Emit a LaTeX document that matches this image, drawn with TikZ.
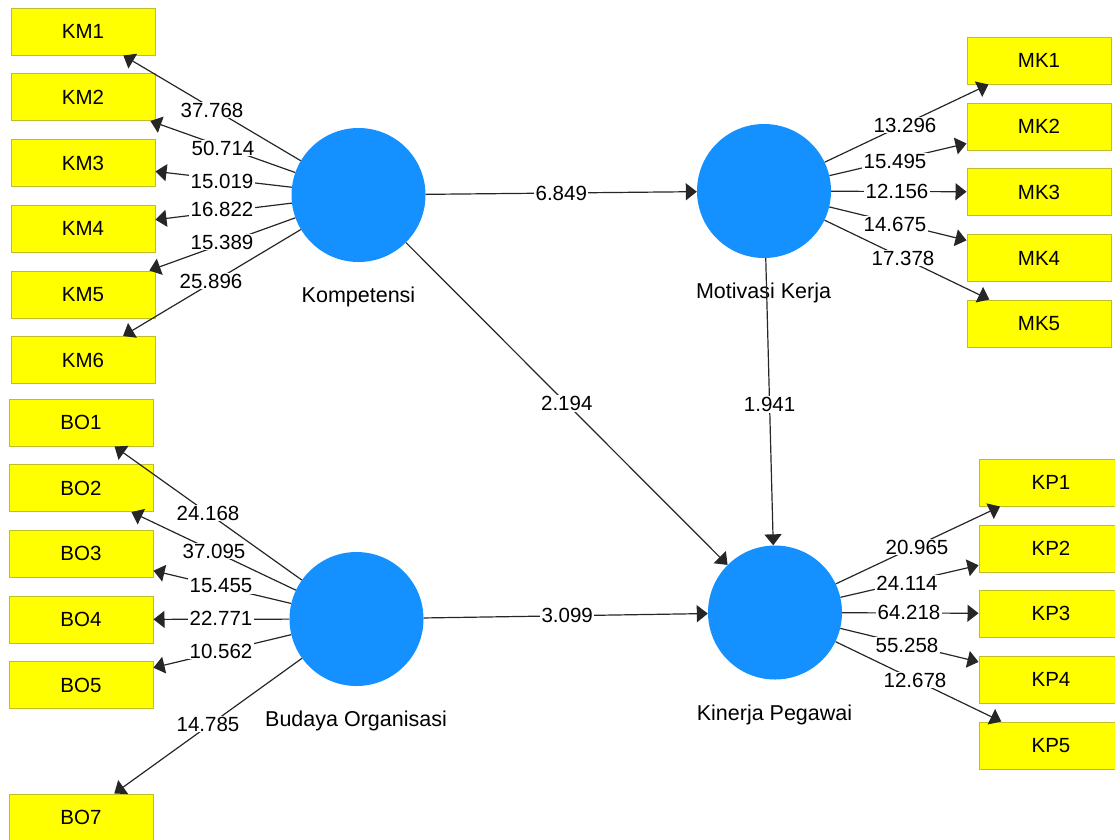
\documentclass[tikz,border=0pt]{standalone}
\usepackage{fontspec}
\setmainfont{Liberation Sans}
\usetikzlibrary{arrows.meta}
\definecolor{lvblue}{RGB}{20,145,255}
\definecolor{boxyel}{RGB}{255,255,0}
\definecolor{boxedge}{RGB}{190,190,40}
\tikzset{
  latent/.style={circle,fill=lvblue,draw=none,minimum size=134pt,inner sep=0pt},
  indic/.style={rectangle,fill=boxyel,draw=boxedge,line width=1pt,minimum width=144pt,minimum height=47pt,inner sep=0pt,font=\fontsize{20.5}{24}\selectfont},
  cname/.style={anchor=base,inner sep=0pt,font=\fontsize{21.5}{25}\selectfont},
  lab/.style={fill=white,inner sep=1.2pt,font=\fontsize{20.5}{24}\selectfont},
  arr/.style={draw=black!85,line width=1.2pt,-{Triangle[length=11pt,width=17pt]}}
}
\begin{document}
\begin{tikzpicture}[x=1pt,y=-1pt]
\useasboundingbox (0,0) rectangle (1115,839);
% latent variables
\node[latent] (K) at (358.5,195) {};
\node[latent] (M) at (764,191) {};
\node[latent] (P) at (775,612.5) {};
\node[latent] (B) at (356.5,619) {};
\node[cname] (Kl) at (358.5,302) {Kompetensi};
\node[cname] (Ml) at (763.5,298) {Motivasi Kerja};
\node[cname] (Pl) at (774.5,720) {Kinerja Pegawai};
\node[cname] (Bl) at (356,726) {Budaya Organisasi};
% KM indicators
\node[indic] (KM1) at (83,31.5) {KM1};
\node[indic] (KM2) at (83,97) {KM2};
\node[indic] (KM3) at (83,163) {KM3};
\node[indic] (KM4) at (83,228.5) {KM4};
\node[indic] (KM5) at (83,294.5) {KM5};
\node[indic] (KM6) at (83,360) {KM6};
% BO indicators
\node[indic] (BO1) at (81,422.5) {BO1};
\node[indic] (BO2) at (81,488) {BO2};
\node[indic] (BO3) at (81,553.5) {BO3};
\node[indic] (BO4) at (81,619.5) {BO4};
\node[indic] (BO5) at (81,685) {BO5};
\node[indic] (BO7) at (81,817.5) {BO7};
% MK indicators
\node[indic] (MK1) at (1039,60.5) {MK1};
\node[indic] (MK2) at (1039,126.5) {MK2};
\node[indic] (MK3) at (1039,192) {MK3};
\node[indic] (MK4) at (1039,258) {MK4};
\node[indic] (MK5) at (1039,323.5) {MK5};
% KP indicators
\node[indic] (KP1) at (1051,482.5) {KP1};
\node[indic] (KP2) at (1051,548.5) {KP2};
\node[indic] (KP3) at (1051,613.5) {KP3};
\node[indic] (KP4) at (1051,679.5) {KP4};
\node[indic] (KP5) at (1051,745.5) {KP5};
% outer loadings
\foreach \i in {1,...,6} { \draw[arr] (K) -- (KM\i); }
\foreach \i in {1,2,3,4,5,7} { \draw[arr] (B) -- (BO\i); }
\foreach \i in {1,...,5} { \draw[arr] (M) -- (MK\i); \draw[arr] (P) -- (KP\i); }
% structural paths
\draw[arr] (K) -- node[lab,pos=0.5] (l1) {6.849} (M);
\draw[arr] (K) -- node[lab,pos=0.5] (l2) {2.194} (P);
\draw[arr] (M) -- node[lab,pos=0.51] (l3) {1.941} (P);
\draw[arr] (B) -- node[lab,pos=0.505] (l4) {3.099} (P);
% loading labels
\node[lab] (a1) at (212,110) {37.768};
\node[lab] (a2) at (223,148) {50.714};
\node[lab] (a3) at (222,181) {15.019};
\node[lab] (a4) at (222,209) {16.822};
\node[lab] (a5) at (222,242) {15.389};
\node[lab] (a6) at (211,281) {25.896};
\node[lab] (b1) at (208,513) {24.168};
\node[lab] (b2) at (214,551) {37.095};
\node[lab] (b3) at (221,586) {15.455};
\node[lab] (b4) at (221,618) {22.771};
\node[lab] (b5) at (221,651) {10.562};
\node[lab] (b7) at (208,724) {14.785};
\node[lab] (m1) at (905,125) {13.296};
\node[lab] (m2) at (895,161) {15.495};
\node[lab] (m3) at (897,191) {12.156};
\node[lab] (m4) at (895,224) {14.675};
\node[lab] (m5) at (903,258) {17.378};
\node[lab] (p1) at (917,547) {20.965};
\node[lab] (p2) at (907,583) {24.114};
\node[lab] (p3) at (909,612) {64.218};
\node[lab] (p4) at (907,645) {55.258};
\node[lab] (p5) at (915,680) {12.678};
\end{tikzpicture}
\end{document}
